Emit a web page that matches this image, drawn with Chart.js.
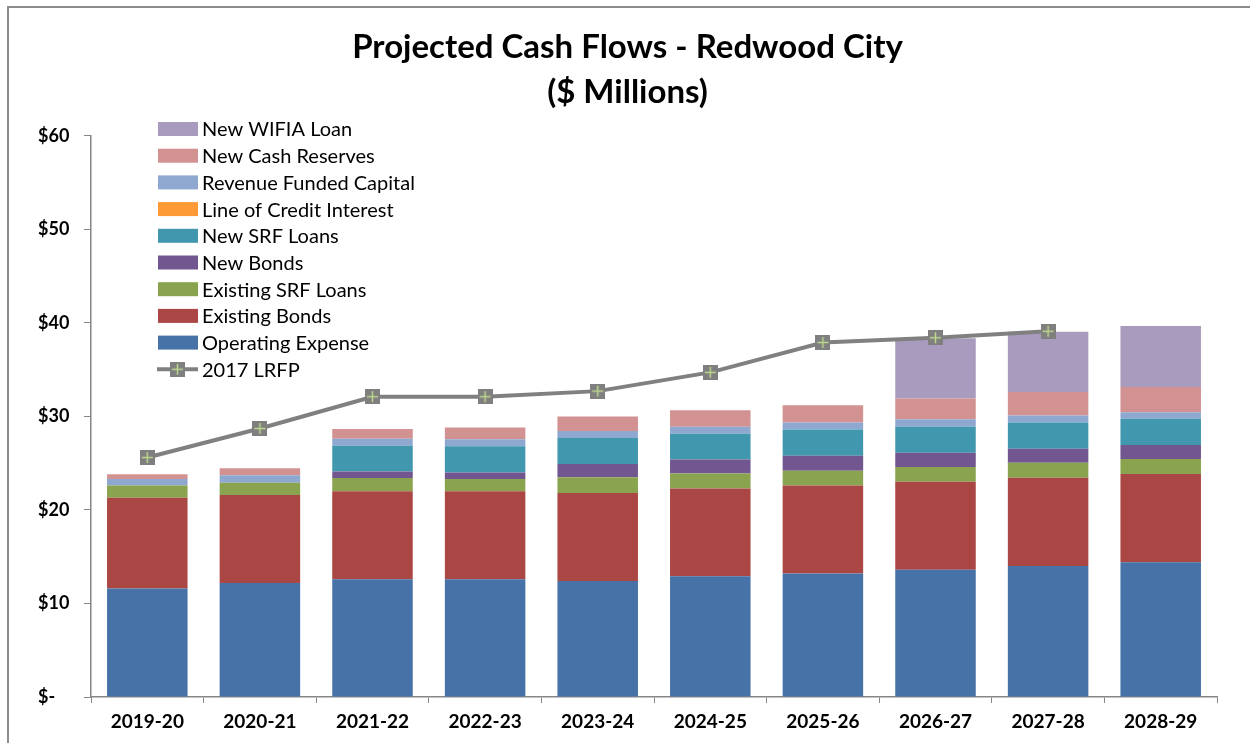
<!DOCTYPE html>
<html lang="en">
<head>
<meta charset="UTF-8">
<title>Projected Cash Flows - Redwood City</title>
<style>
  html, body { margin: 0; padding: 0; background: #fff; }
  #wrap { width: 1250px; height: 743px; }
</style>
</head>
<body>
<div id="wrap"><canvas id="cashChart" width="1250" height="743"></canvas></div>
<script src="https://cdn.jsdelivr.net/npm/chart.js"></script>
<script>
  // fiscal years
  const years = ['2019-20', '2020-21', '2021-22', '2022-23', '2023-24', '2024-25', '2025-26', '2026-27', '2027-28', '2028-29'];

  // $ millions
  const operatingExpense = [11.6, 12.2, 12.6, 12.6, 12.4, 12.9, 13.2, 13.6, 14.0, 14.4];
  const existingBonds    = [9.7, 9.4, 9.4, 9.4, 9.4, 9.4, 9.4, 9.4, 9.45, 9.45];
  const existingSRF      = [1.3, 1.3, 1.4, 1.3, 1.7, 1.6, 1.6, 1.6, 1.6, 1.6];
  const newBonds         = [0, 0, 0.7, 0.7, 1.4, 1.5, 1.6, 1.5, 1.5, 1.5];
  const newSRF           = [0, 0, 2.75, 2.8, 2.8, 2.75, 2.8, 2.8, 2.8, 2.8];
  const lineOfCredit     = [0, 0, 0, 0, 0, 0, 0, 0, 0, 0];
  const revenueCapital   = [0.7, 0.8, 0.75, 0.75, 0.75, 0.75, 0.75, 0.8, 0.75, 0.7];
  const cashReserves     = [0.5, 0.75, 1.05, 1.25, 1.55, 1.75, 1.85, 2.2, 2.5, 2.7];
  const wifiaLoan        = [0, 0, 0, 0, 0, 0, 0, 6.45, 6.45, 6.5];
  const lrfp2017         = [25.6, 28.7, 32.1, 32.1, 32.7, 34.7, 37.9, 38.4, 39.1, null];

  const yTicks = [0, 10, 20, 30, 40, 50, 60];

  // gray square marker with a green cross
  function makeMarker() {
    const c = document.createElement('canvas');
    c.width = 15; c.height = 15;
    const g = c.getContext('2d');
    g.fillStyle = '#7f7f7f';
    g.fillRect(0, 0, 15, 15);
    g.strokeStyle = '#bcd68c';
    g.lineWidth = 1.5;
    g.beginPath();
    g.moveTo(7.5, 2); g.lineTo(7.5, 13);
    g.moveTo(2, 7.5); g.lineTo(13, 7.5);
    g.stroke();
    return c;
  }
  const marker = makeMarker();

  function bar(label, data, color) {
    return { type: 'bar', label: label, data: data, backgroundColor: color, borderWidth: 0, order: 1, stack: 's' };
  }

  const datasets = [
    bar('Operating Expense', operatingExpense, '#4672a8'),
    bar('Existing Bonds', existingBonds, '#aa4744'),
    bar('Existing SRF Loans', existingSRF, '#89a34e'),
    bar('New Bonds', newBonds, '#71568f'),
    bar('New SRF Loans', newSRF, '#4197ae'),
    bar('Line of Credit Interest', lineOfCredit, '#fd9a36'),
    bar('Revenue Funded Capital', revenueCapital, '#8fa8cf'),
    bar('New Cash Reserves', cashReserves, '#d29291'),
    bar('New WIFIA Loan', wifiaLoan, '#a99bbd'),
    {
      type: 'line', label: '2017 LRFP', data: lrfp2017, order: 0,
      borderColor: '#808080', borderWidth: 4, fill: false, tension: 0,
      pointStyle: marker, pointRadius: 7.5, spanGaps: false
    }
  ];

  // legend inside the plot, drawn by hand to match the original
  const legendInside = {
    id: 'legendInside',
    afterDraw(chart) {
      const ctx = chart.ctx;
      const ds = chart.data.datasets;
      const items = ds.filter(d => d.type === 'bar').reverse().concat(ds.filter(d => d.type === 'line'));
      ctx.save();
      ctx.font = '20px Lato';
      ctx.textBaseline = 'middle';
      items.forEach((d, i) => {
        const y = 129 + i * 26.7;
        if (d.type === 'line') {
          ctx.strokeStyle = d.borderColor;
          ctx.lineWidth = 4;
          ctx.beginPath();
          ctx.moveTo(157, y); ctx.lineTo(198, y);
          ctx.stroke();
          ctx.drawImage(marker, 170, y - 7.5);
        } else {
          ctx.fillStyle = d.backgroundColor;
          ctx.fillRect(158, y - 7, 40, 14);
        }
        ctx.fillStyle = '#000';
        ctx.fillText(d.label, 202, y + 1);
      });
      ctx.restore();
    }
  };

  const frame = {
    id: 'frame',
    beforeDraw(chart) {
      const ctx = chart.ctx;
      ctx.save();
      ctx.fillStyle = '#fff';
      ctx.fillRect(0, 0, chart.width, chart.height);
      ctx.strokeStyle = '#8c8c8c';
      ctx.lineWidth = 2;
      ctx.strokeRect(8, 7, 1400, 900);
      ctx.restore();
    }
  };

  new Chart(document.getElementById('cashChart'), {
    data: { labels: years, datasets: datasets },
    plugins: [frame, legendInside],
    options: {
      responsive: false,
      animation: false,
      layout: { padding: { left: 38, right: 33, top: 0, bottom: 0 } },
      datasets: { bar: { barPercentage: 0.715, categoryPercentage: 1 } },
      plugins: {
        legend: { display: false },
        tooltip: { enabled: false },
        title: {
          display: true,
          text: ['Projected Cash Flows - Redwood City', '($ Millions)'],
          color: '#000',
          font: { family: 'Lato', size: 33, weight: 'bold', lineHeight: 1.36 },
          padding: { top: 25, bottom: 21 }
        }
      },
      scales: {
        x: {
          stacked: true,
          grid: { offset: true, drawOnChartArea: false, tickLength: 6, color: '#868686' },
          border: { color: '#868686', width: 1.5 },
          ticks: { color: '#000', font: { family: 'Lato', size: 19, weight: 'bold' }, padding: 7, maxRotation: 0 },
          afterFit(s) { s.height = 46; }
        },
        y: {
          stacked: true,
          min: 0, max: 60,
          afterBuildTicks(s) { s.ticks = yTicks.map(v => ({ value: v })); },
          grid: { drawOnChartArea: false, tickLength: 7, color: '#868686' },
          border: { color: '#868686', width: 1.5 },
          ticks: {
            color: '#000', crossAlign: 'far',
            font: { family: 'Lato', size: 18, weight: 'bold' },
            callback: v => v === 0 ? '$-' : '$' + v
          },
          afterFit(s) { s.width = 53; }
        }
      }
    }
  });
</script>
</body>
</html>
